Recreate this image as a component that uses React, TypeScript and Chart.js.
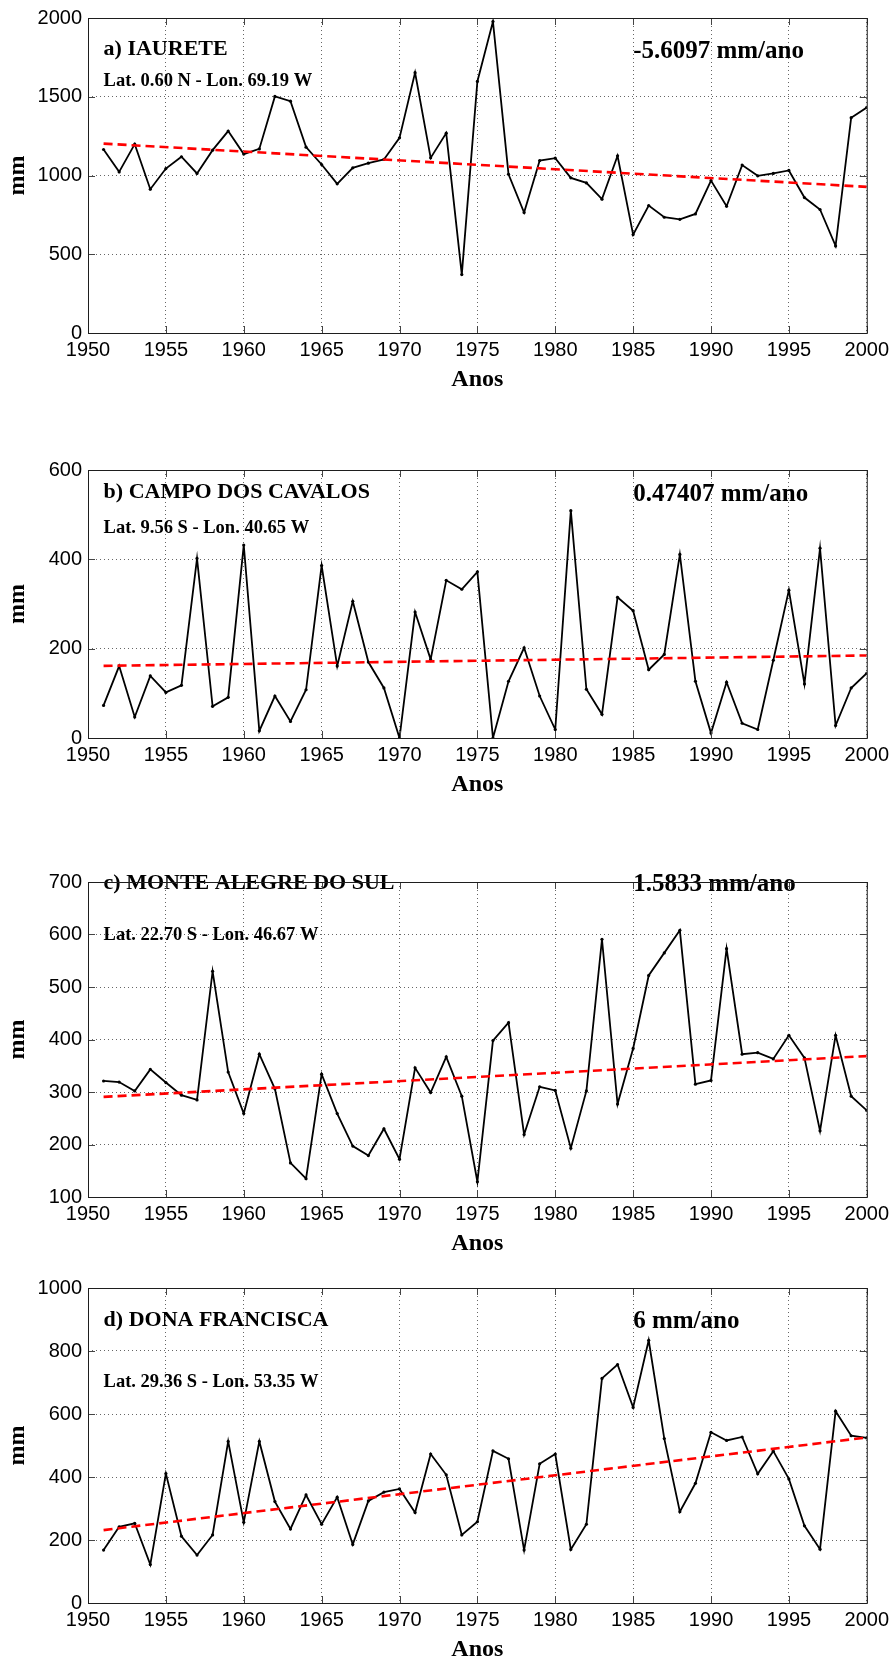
import React, { useEffect, useRef } from "react";
import { Chart, registerables } from "chart.js";

Chart.register(...registerables);

// Hydrological years on the horizontal axis
const YEARS = [
  1951, 1952, 1953, 1954, 1955, 1956, 1957, 1958, 1959, 1960,
  1961, 1962, 1963, 1964, 1965, 1966, 1967, 1968, 1969, 1970,
  1971, 1972, 1973, 1974, 1975, 1976, 1977, 1978, 1979, 1980,
  1981, 1982, 1983, 1984, 1985, 1986, 1987, 1988, 1989, 1990,
  1991, 1992, 1993, 1994, 1995, 1996, 1997, 1998, 1999, 2000,
];

// Seasonal precipitation totals (mm) per station
const IAURETE_MM = [
  1165, 1023, 1199, 913, 1044, 1119, 1013, 1161, 1282, 1136,
  1169, 1502, 1472, 1180, 1070, 947, 1049, 1078, 1102, 1239,
  1653, 1112, 1269, 371, 1597, 1977, 1008, 765, 1095, 1110,
  985, 953, 850, 1125, 625, 809, 735, 722, 756, 968,
  805, 1066, 998, 1013, 1032, 860, 784, 553, 1367, 1432,
];

const CAMPO_DOS_CAVALOS_MM = [
  73, 161, 47, 139, 102, 118, 402, 71, 91, 432,
  16, 94, 37, 108, 386, 161, 306, 170, 112, 0,
  282, 176, 353, 333, 372, 0, 127, 202, 94, 19,
  509, 109, 53, 315, 285, 153, 187, 411, 127, 11,
  125, 33, 19, 174, 331, 121, 425, 28, 112, 145,
];

const MONTE_ALEGRE_DO_SUL_MM = [
  321, 319, 302, 343, 318, 294, 285, 530, 338, 259,
  372, 306, 165, 135, 334, 259, 197, 179, 230, 172,
  346, 299, 367, 292, 129, 398, 432, 219, 310, 303,
  193, 302, 591, 277, 383, 522, 565, 608, 315, 322,
  573, 372, 375, 363, 408, 365, 226, 408, 292, 265,
];

const DONA_FRANCISCA_MM = [
  168, 242, 253, 122, 411, 212, 152, 216, 513, 256,
  513, 322, 235, 343, 250, 336, 186, 324, 352, 362,
  287, 473, 407, 216, 258, 483, 458, 168, 442, 473,
  170, 250, 713, 757, 621, 834, 522, 290, 380, 542,
  516, 527, 410, 482, 394, 245, 171, 609, 531, 524,
];

// Linear trends (mm per year) reported for each station
const IAURETE_SLOPE = -5.6097;
const CAMPO_DOS_CAVALOS_SLOPE = 0.47407;
const MONTE_ALEGRE_DO_SUL_SLOPE = 1.5833;
const DONA_FRANCISCA_SLOPE = 6;

// Tick labels
const X_TICKS = [1950, 1955, 1960, 1965, 1970, 1975, 1980, 1985, 1990, 1995, 2000];
const IAURETE_TICKS = [0, 500, 1000, 1500, 2000];
const CAMPO_DOS_CAVALOS_TICKS = [0, 200, 400, 600];
const MONTE_ALEGRE_DO_SUL_TICKS = [100, 200, 300, 400, 500, 600, 700];
const DONA_FRANCISCA_TICKS = [0, 200, 400, 600, 800, 1000];

const TITLES = [
  "a) IAURETE",
  "b) CAMPO DOS CAVALOS",
  "c) MONTE ALEGRE DO SUL",
  "d) DONA FRANCISCA",
];
const COORDS = [
  "Lat. 0.60 N - Lon. 69.19 W",
  "Lat. 9.56 S - Lon. 40.65 W",
  "Lat. 22.70 S - Lon. 46.67 W",
  "Lat. 29.36 S - Lon. 53.35 W",
];

const SERIF = '"Liberation Serif", "Times New Roman", serif';
const SANS = '"Liberation Sans", Arial, sans-serif';

type Panel = {
  title: string;
  coords: string;
  values: number[];
  slope: number;
  yTicks: number[];
  // layout: canvas top on the page, padding above plot, plot height
  canvasTop: number;
  padTop: number;
  plotH: number;
  // text anchors in data units
  titleY: number;
  coordsY: number;
  slopeY: number;
};

const PANELS: Panel[] = [
  {
    title: TITLES[0], coords: COORDS[0], values: IAURETE_MM, slope: IAURETE_SLOPE,
    yTicks: IAURETE_TICKS, canvasTop: 0, padTop: 18, plotH: 315,
    titleY: 1800, coordsY: 1600, slopeY: 1785,
  },
  {
    title: TITLES[1], coords: COORDS[1], values: CAMPO_DOS_CAVALOS_MM, slope: CAMPO_DOS_CAVALOS_SLOPE,
    yTicks: CAMPO_DOS_CAVALOS_TICKS, canvasTop: 440, padTop: 30, plotH: 268,
    titleY: 551, coordsY: 470, slopeY: 545,
  },
  {
    title: TITLES[2], coords: COORDS[2], values: MONTE_ALEGRE_DO_SUL_MM, slope: MONTE_ALEGRE_DO_SUL_SLOPE,
    yTicks: MONTE_ALEGRE_DO_SUL_TICKS, canvasTop: 852, padTop: 30, plotH: 315,
    titleY: 697, coordsY: 599, slopeY: 695,
  },
  {
    title: TITLES[3], coords: COORDS[3], values: DONA_FRANCISCA_MM, slope: DONA_FRANCISCA_SLOPE,
    yTicks: DONA_FRANCISCA_TICKS, canvasTop: 1259, padTop: 29, plotH: 315,
    titleY: 898, coordsY: 702, slopeY: 893,
  },
];

const WIDTH = 894;
const Y_AXIS_W = 88;
const X_AXIS_H = 61;
const PAD_RIGHT = 25;

// Texts, inward tick marks and the closed axes box
const panelDecor = {
  id: "panelDecor",
  afterDatasetsDraw(chart: any, _args: any, opts: any) {
    const { ctx, chartArea } = chart;
    const { left, right, top, bottom } = chartArea;
    const xs = chart.scales.x;
    const ys = chart.scales.y;

    ctx.save();
    ctx.fillStyle = "#000";
    ctx.textAlign = "left";
    ctx.textBaseline = "middle";
    const x0 = xs.getPixelForValue(1951);
    ctx.font = `bold 22px ${SERIF}`;
    ctx.fillText(opts.title, x0, ys.getPixelForValue(opts.titleY));
    ctx.font = `bold 18.5px ${SERIF}`;
    ctx.fillText(opts.coords, x0, ys.getPixelForValue(opts.coordsY));
    ctx.font = `bold 25px ${SERIF}`;
    ctx.fillText(`${opts.slope} mm/ano`, xs.getPixelForValue(1985), ys.getPixelForValue(opts.slopeY));

    ctx.strokeStyle = "#444";
    ctx.lineWidth = 1;
    ctx.setLineDash([]);
    ctx.beginPath();
    const tl = 7;
    for (const v of X_TICKS) {
      const px = Math.round(xs.getPixelForValue(v)) + 0.5;
      ctx.moveTo(px, bottom);
      ctx.lineTo(px, bottom - tl);
      ctx.moveTo(px, top);
      ctx.lineTo(px, top + tl);
    }
    for (const v of opts.yTicks) {
      const py = Math.round(ys.getPixelForValue(v)) + 0.5;
      ctx.moveTo(left, py);
      ctx.lineTo(left + tl, py);
      ctx.moveTo(right, py);
      ctx.lineTo(right - tl, py);
    }
    ctx.stroke();

    ctx.strokeStyle = "#1e1e1e";
    ctx.strokeRect(left + 0.5, top + 0.5, right - left, bottom - top);
    ctx.restore();
  },
};

function PanelChart({ panel }: { panel: Panel }) {
  const ref = useRef<HTMLCanvasElement | null>(null);
  const height = panel.padTop + panel.plotH + X_AXIS_H;

  useEffect(() => {
    const canvas = ref.current;
    if (!canvas) return;
    const { values, slope } = panel;
    const meanVal = values.reduce((s, v) => s + v, 0) / values.length;
    const meanYear = YEARS.reduce((s, v) => s + v, 0) / YEARS.length;
    const first = YEARS[0];
    const last = YEARS[YEARS.length - 1];
    const trend = [first, last].map((yr) => ({ x: yr, y: meanVal + slope * (yr - meanYear) }));
    const series = YEARS.map((yr, i) => ({ x: yr, y: values[i] }));
    const yTicks = panel.yTicks;

    const chart = new Chart(canvas, {
      type: "line",
      data: {
        datasets: [
          {
            data: trend,
            borderColor: "#ff0000",
            borderWidth: 2.6,
            borderDash: [9, 5],
            pointRadius: 0,
            fill: false,
            tension: 0,
            order: 0,
          },
          {
            data: series,
            borderColor: "#000",
            borderWidth: 1.8,
            pointRadius: 1.6,
            pointBorderWidth: 0,
            pointBackgroundColor: "#000",
            fill: false,
            tension: 0,
            order: 1,
          },
        ],
      },
      options: {
        responsive: false,
        animation: false,
        devicePixelRatio: 1,
        events: [],
        layout: { padding: { top: panel.padTop, right: PAD_RIGHT, left: 0, bottom: 0 } },
        plugins: {
          legend: { display: false },
          tooltip: { enabled: false },
          panelDecor: {
            title: panel.title,
            coords: panel.coords,
            slope: panel.slope,
            yTicks,
            titleY: panel.titleY,
            coordsY: panel.coordsY,
            slopeY: panel.slopeY,
          },
        } as any,
        scales: {
          x: {
            type: "linear",
            min: X_TICKS[0],
            max: X_TICKS[X_TICKS.length - 1],
            afterBuildTicks: (axis: any) => {
              axis.ticks = X_TICKS.map((v) => ({ value: v }));
            },
            afterFit: (axis: any) => {
              axis.height = X_AXIS_H;
            },
            ticks: {
              color: "#000",
              font: { family: SANS, size: 20 },
              padding: 5,
              maxRotation: 0,
              autoSkip: false,
              callback: (v: any) => String(v),
            },
            grid: { color: "rgba(0,0,0,0.6)", lineWidth: 1, drawTicks: false },
            border: { display: false, dash: [1, 3] },
            title: {
              display: true,
              text: "Anos",
              color: "#000",
              font: { family: SERIF, size: 24, weight: "bold" },
              padding: { top: 0, bottom: 0 },
            },
          },
          y: {
            type: "linear",
            min: yTicks[0],
            max: yTicks[yTicks.length - 1],
            afterBuildTicks: (axis: any) => {
              axis.ticks = yTicks.map((v) => ({ value: v }));
            },
            afterFit: (axis: any) => {
              axis.width = Y_AXIS_W;
            },
            ticks: {
              color: "#000",
              font: { family: SANS, size: 20 },
              padding: 6,
              autoSkip: false,
              callback: (v: any) => String(v),
            },
            grid: { color: "rgba(0,0,0,0.6)", lineWidth: 1, drawTicks: false },
            border: { display: false, dash: [1, 3] },
            title: {
              display: true,
              text: "mm",
              color: "#000",
              font: { family: SERIF, size: 24, weight: "bold" },
              padding: { top: 3, bottom: 0 },
            },
          },
        },
      },
      plugins: [panelDecor],
    } as any);

    return () => chart.destroy();
  }, [panel]);

  return (
    <canvas
      ref={ref}
      width={WIDTH}
      height={height}
      style={{
        position: "absolute",
        left: 0,
        top: panel.canvasTop,
        width: WIDTH,
        height,
        display: "block",
      }}
    />
  );
}

export default function App() {
  return (
    <div
      style={{
        position: "absolute",
        left: 0,
        top: 0,
        width: WIDTH,
        height: 1664,
        background: "#fff",
        overflow: "hidden",
      }}
    >
      {PANELS.map((p) => (
        <PanelChart key={p.title} panel={p} />
      ))}
    </div>
  );
}
